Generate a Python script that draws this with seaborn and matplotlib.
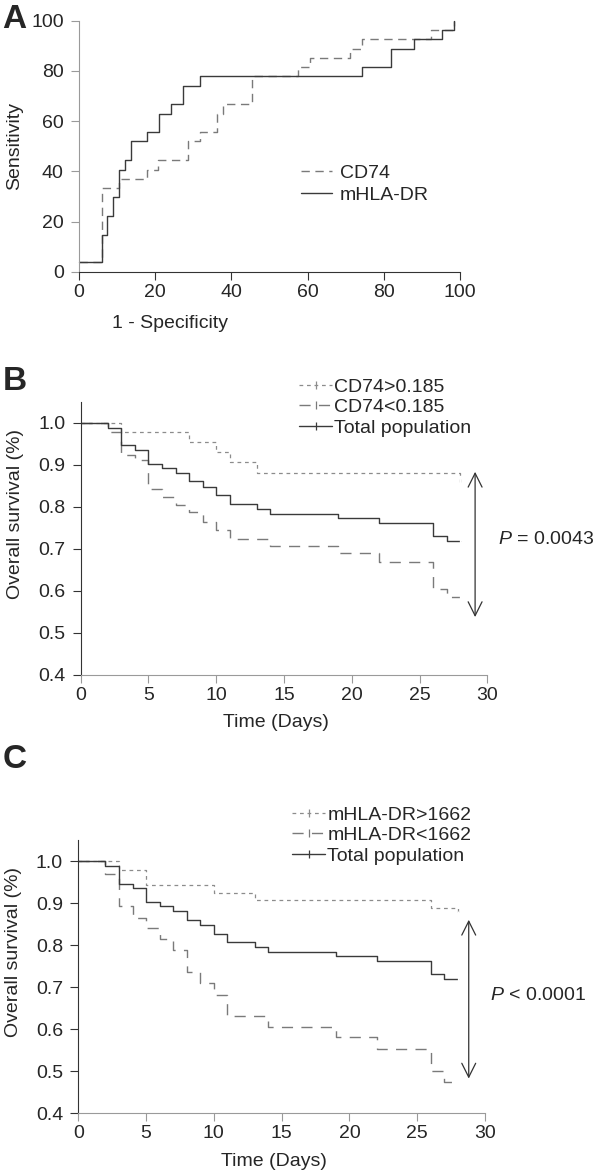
import matplotlib
matplotlib.use("Agg")
import matplotlib.pyplot as plt
from matplotlib.lines import Line2D
import seaborn as sns

# ROC curves (panel A), x = 1 - specificity (%), y = sensitivity (%)
cd74_fpr = [0, 6.0, 10.5, 17.9, 20.8, 28.7, 31.8, 36.3, 37.7, 45.5, 57.6, 60.5, 71.1, 74.2, 92.3, 98.4]
cd74_tpr = [3.7, 33.3, 37.0, 40.7, 44.4, 51.9, 55.6, 63.0, 66.7, 77.8, 81.5, 85.2, 88.9, 92.6, 96.3, 100]
hladr_fpr = [0, 6.0, 7.4, 9.0, 10.5, 12.1, 13.6, 17.9, 21.1, 24.1, 27.2, 31.8, 74.2, 81.8, 87.8, 95.4, 98.4]
hladr_tpr = [3.7, 14.8, 22.2, 29.6, 40.7, 44.4, 51.9, 55.6, 63.0, 66.7, 74.1, 77.8, 81.5, 88.9, 92.6, 96.3, 100]

# Kaplan-Meier curves, total population (panels B and C)
days_total = [0, 2, 3, 4, 5, 6, 7, 8, 9, 10, 11, 13, 14, 19, 22, 26, 27, 28]
surv_total = [1.0, 0.988, 0.946, 0.935, 0.902, 0.892, 0.880, 0.860, 0.848, 0.827, 0.806,
              0.795, 0.783, 0.773, 0.761, 0.731, 0.719, 0.719]

# panel B: CD74
days_cd74_hi = [0, 3, 8, 10, 11, 13, 28]
surv_cd74_hi = [1.0, 0.979, 0.955, 0.931, 0.907, 0.879, 0.858]
days_cd74_lo = [0, 2, 3, 4, 5, 6, 7, 8, 9, 10, 11, 14, 19, 22, 26, 27, 28]
surv_cd74_lo = [1.0, 0.977, 0.923, 0.912, 0.843, 0.823, 0.804, 0.788, 0.764, 0.744, 0.724,
                0.706, 0.689, 0.669, 0.605, 0.586, 0.586]

# panel C: mHLA-DR
days_hla_hi = [0, 3, 5, 10, 13, 26, 28]
surv_hla_hi = [1.0, 0.979, 0.943, 0.924, 0.906, 0.889, 0.872]
days_hla_lo = [0, 2, 3, 4, 5, 6, 7, 8, 9, 10, 11, 14, 19, 22, 26, 27, 28]
surv_hla_lo = [1.0, 0.970, 0.893, 0.864, 0.840, 0.815, 0.789, 0.736, 0.709, 0.682, 0.631,
               0.605, 0.580, 0.553, 0.500, 0.475, 0.475]

sns.set_style("ticks")
plt.rcParams["font.family"] = ["Liberation Sans", "DejaVu Sans"]
plt.rcParams["mathtext.fontset"] = "custom"
plt.rcParams["mathtext.it"] = "Liberation Sans:italic"
plt.rcParams["mathtext.rm"] = "Liberation Sans"

FS = 14
DARK = "#333333"
LIGHT = "#9a9a9a"
STY_SOLID = dict(color="#3a3a3a", lw=1.0, linestyle="-")
STY_DOT = dict(color="#8c8c8c", lw=0.9, linestyle=(0, (3, 3)))
STY_DASH = dict(color="#7a7a7a", lw=1.0, linestyle=(0, (8, 6)))
STY_ROC_DASH = dict(color="#7a7a7a", lw=1.0, linestyle=(0, (6, 4)))

fig = plt.figure(figsize=(6, 11.74), dpi=100)


def style_axes(ax, left_col, bottom_col):
    sns.despine(ax=ax)
    ax.spines["left"].set_color(left_col)
    ax.spines["bottom"].set_color(bottom_col)
    for s in ("left", "bottom"):
        ax.spines[s].set_linewidth(0.8)
    ax.tick_params(axis="y", direction="out", length=6, width=0.8, pad=5,
                   labelsize=FS, color=left_col)
    ax.tick_params(axis="x", direction="out", length=6, width=0.8, pad=3,
                   labelsize=FS, color=bottom_col)


def step(ax, x, y, sty, end_mark=False):
    kw = dict(sty)
    if end_mark:
        kw.update(marker="|", markevery=[len(x) - 1], markersize=6, markeredgewidth=0.9)
    sns.lineplot(x=x, y=y, ax=ax, drawstyle="steps-post", estimator=None, sort=False,
                 legend=False, clip_on=False, **kw)


# ---- Panel A: ROC ----
axA = fig.add_axes([79 / 600, 1 - 271.7 / 1174, 381 / 600, 251 / 1174])
step(axA, cd74_fpr, cd74_tpr, STY_ROC_DASH)
step(axA, hladr_fpr, hladr_tpr, STY_SOLID)
axA.set_xlim(0, 100)
axA.set_ylim(0, 100)
axA.set_xticks(range(0, 101, 20))
axA.set_yticks(range(0, 101, 20))
style_axes(axA, LIGHT, DARK)
axA.set_xlabel("1 - Specificity", fontsize=FS)
axA.set_ylabel("Sensitivity", fontsize=FS)
axA.xaxis.set_label_coords(91 / 381, -0.172)
axA.yaxis.set_label_coords(-0.147, 0.5)
handlesA = [Line2D([], [], **STY_ROC_DASH), Line2D([], [], **STY_SOLID)]
axA.legend(handlesA, ["CD74", "mHLA-DR"], loc="upper left", frameon=False,
           bbox_to_anchor=(301 / 600, 1 - 164 / 1174), bbox_transform=fig.transFigure,
           borderpad=0, borderaxespad=0, handlelength=1.6, handletextpad=0.4,
           labelspacing=0.25, fontsize=FS)


def km_panel(rect, hi, lo, labels, p_text, arrow, p_xy, leg_xy, ylab_y):
    ax = fig.add_axes(rect)
    step(ax, hi[0], hi[1], STY_DOT, end_mark=True)
    step(ax, lo[0], lo[1], STY_DASH, end_mark=True)
    step(ax, days_total, surv_total, STY_SOLID, end_mark=True)
    ax.set_xlim(0, 30)
    ax.set_ylim(0.4, 1.05)
    ax.set_xticks(range(0, 31, 5))
    ax.set_yticks([0.4, 0.5, 0.6, 0.7, 0.8, 0.9, 1.0])
    ax.set_yticklabels(["0.4", "0.5", "0.6", "0.7", "0.8", "0.9", "1.0"])
    style_axes(ax, DARK, LIGHT)
    ax.set_xlabel("Time (Days)", fontsize=FS)
    ax.set_ylabel("Overall survival (%)", fontsize=FS)
    ax.xaxis.set_label_coords(0.48, -0.145)
    ax.yaxis.set_label_coords(-0.139, ylab_y)
    ax.annotate("", xy=(arrow[0], arrow[2]), xytext=(arrow[0], arrow[1]),
                arrowprops=dict(arrowstyle="<->,head_length=1.0,head_width=0.5",
                                color=DARK, lw=0.9, shrinkA=0, shrinkB=0,
                                mutation_scale=10),
                annotation_clip=False)
    ax.text(p_xy[0], p_xy[1], p_text, fontsize=FS, va="center", ha="left",
            clip_on=False)
    handles = [Line2D([], [], marker="|", markersize=6, markeredgewidth=0.9, **STY_DOT),
               Line2D([], [], marker="|", markersize=6, markeredgewidth=0.9, **STY_DASH),
               Line2D([], [], marker="|", markersize=6, markeredgewidth=0.9, **STY_SOLID)]
    ax.legend(handles, labels, loc="upper left", frameon=False, numpoints=1,
              bbox_to_anchor=leg_xy, bbox_transform=fig.transFigure,
              borderpad=0, borderaxespad=0, handlelength=1.7, handletextpad=0.12,
              labelspacing=0.15, fontsize=FS)
    return ax


# ---- Panel B ----
km_panel([80.7 / 600, 1 - 674.6 / 1174, 406.6 / 600, 272.9 / 1174],
         (days_cd74_hi, surv_cd74_hi), (days_cd74_lo, surv_cd74_lo),
         ["CD74>0.185", "CD74<0.185", "Total population"],
         "$P$ = 0.0043", (29.1, 0.883, 0.537), (30.8, 0.722),
         (299 / 600, 1 - 378 / 1174), 0.588)

# ---- Panel C ----
km_panel([78.3 / 600, 1 - 1113 / 1174, 406.7 / 600, 273 / 1174],
         (days_hla_hi, surv_hla_hi), (days_hla_lo, surv_hla_lo),
         ["mHLA-DR>1662", "mHLA-DR<1662", "Total population"],
         "$P$ < 0.0001", (28.8, 0.860, 0.482), (30.4, 0.68),
         (292 / 600, 1 - 806 / 1174), 0.59)

for letter, yp in (("A", 19), ("B", 381), ("C", 760)):
    fig.text(0.004, 1 - yp / 1174, letter, fontsize=24, fontweight="bold", va="center")

fig.savefig("out.png", dpi=100)
